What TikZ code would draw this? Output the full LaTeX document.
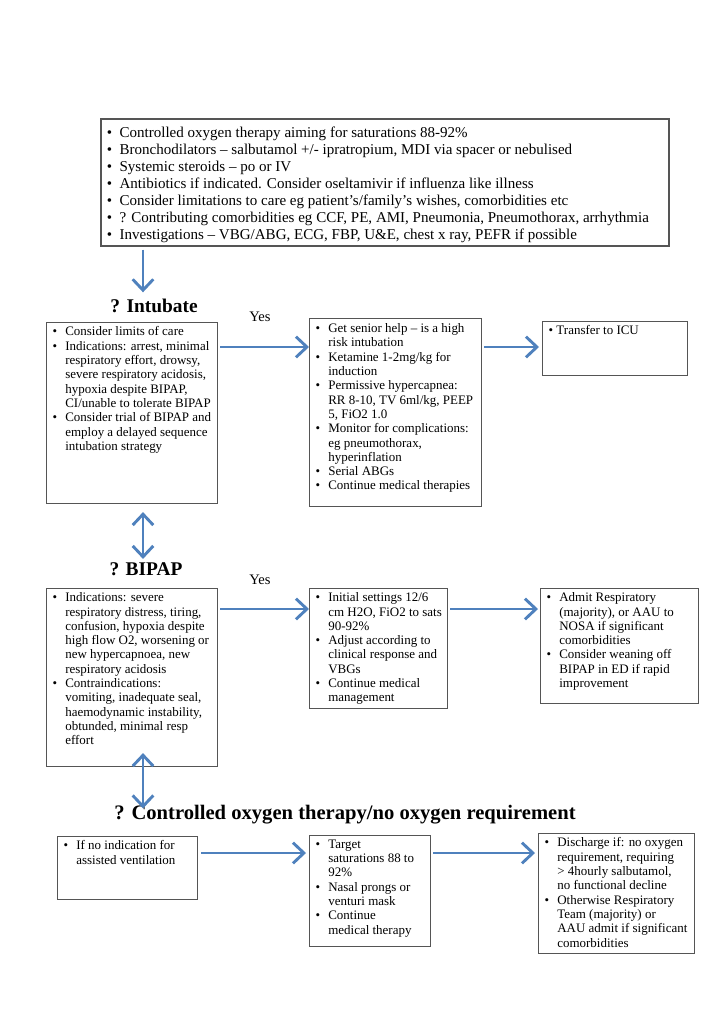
\documentclass[tikz,border=0pt]{standalone}
\usepackage{fontspec}
\setmainfont{Liberation Serif}
\usetikzlibrary{arrows.meta,calc,positioning}
\definecolor{flowblue}{RGB}{79,129,189}
\definecolor{boxgray}{RGB}{85,85,85}
\newlength\px
\setlength\px{0.29mm}
\newlength\itmhang
\setlength\itmhang{10.5pt}
\newcommand\itm{\par\hangindent=\itmhang\hangafter=1\noindent\makebox[\itmhang][l]{\textbullet}}
\newcommand\boxtxt[4][3.5pt]{\parbox[c][#3\px][t]{#2\px}{\leftskip=5pt\rightskip=0pt plus 1fil\vspace*{#1}#4}}

\begin{document}
\begin{tikzpicture}[x=0.29mm,y=-0.29mm,
    care/.style={draw=boxgray,line width=0.9pt,inner sep=0pt,anchor=north west,font=\fontsize{10.7}{11.8}\selectfont},
    head/.style={font=\fontsize{16}{19}\selectfont\bfseries,inner sep=0pt,anchor=base},
    yes/.style={font=\fontsize{12}{14}\selectfont,inner sep=0pt,anchor=base},
    flow/.style={draw=flowblue,line width=2.4pt,-{Straight Barb[length=9pt,width=17pt]}},
    dflow/.style={flow,{Straight Barb[length=9pt,width=17pt]}-{Straight Barb[length=9pt,width=17pt]}}]
\useasboundingbox (0,0) rectangle (724,1024);

\node[care,line width=1.4pt,font=\fontsize{12.4}{14.1}\selectfont] (mgmt) at (100,118) {\boxtxt[6.5pt]{568}{127}{%
  \itm Controlled oxygen therapy aiming for saturations 88-92\%
  \itm Bronchodilators – salbutamol +/- ipratropium, MDI via spacer or nebulised
  \itm Systemic steroids – po or IV
  \itm Antibiotics if indicated. Consider oseltamivir if influenza like illness
  \itm Consider limitations to care eg patient’s/family’s wishes, comorbidities etc
  \itm ? Contributing comorbidities eg CCF, PE, AMI, Pneumonia, Pneumothorax, arrhythmia
  \itm Investigations – VBG/ABG, ECG, FBP, U\&E, chest x ray, PEFR if possible}};

\node[head] (hInt) at (154,312) {? Intubate};
\node[yes] (yInt) at (260,321) {Yes};
\node[care] (intA) at (46,322) {\boxtxt{171}{181}{%
  \itm Consider limits of care
  \itm Indications: arrest, minimal\\respiratory effort, drowsy,\\severe respiratory acidosis,\\hypoxia despite BIPAP,\\CI/unable to tolerate BIPAP
  \itm Consider trial of BIPAP and\\employ a delayed sequence\\intubation strategy}};
\node[care] (intB) at (309,318) {\boxtxt[4.2pt]{172}{188}{%
  \itm Get senior help – is a high\\risk intubation
  \itm Ketamine 1-2mg/kg for\\induction
  \itm Permissive hypercapnea:\\RR 8-10, TV 6ml/kg, PEEP\\5, FiO2 1.0
  \itm Monitor for complications:\\eg pneumothorax,\\hyperinflation
  \itm Serial ABGs
  \itm Continue medical therapies}};
\node[care] (intC) at (542,321) {\boxtxt{145}{54}{\setlength\itmhang{6.5pt}%
  \itm Transfer to ICU}};

\node[head] (hBip) at (146,575) {? BIPAP};
\node[yes] (yBip) at (260,584) {Yes};
\node[care] (bipA) at (46,588) {\boxtxt{171}{178}{%
  \itm Indications: severe\\respiratory distress, tiring,\\confusion, hypoxia despite\\high flow O2, worsening or\\new hypercapnoea, new\\respiratory acidosis
  \itm Contraindications:\\vomiting, inadequate seal,\\haemodynamic instability,\\obtunded, minimal resp\\effort}};
\node[care] (bipB) at (309,588) {\boxtxt{138}{120}{%
  \itm Initial settings 12/6\\cm H2O, FiO2 to sats\\90-92\%
  \itm Adjust according to\\clinical response and\\VBGs
  \itm Continue medical\\management}};
\node[care] (bipC) at (540,588) {\boxtxt{158}{115}{%
  \itm Admit Respiratory\\(majority), or AAU to\\NOSA if significant\\comorbidities
  \itm Consider weaning off\\BIPAP in ED if rapid\\improvement}};

\node[head,font=\fontsize{17}{20}\selectfont\bfseries] (hOxy) at (345,819) {? Controlled oxygen therapy/no oxygen requirement};
\node[care] (oxyA) at (57,836) {\boxtxt{140}{63}{%
  \itm If no indication for\\assisted ventilation}};
\node[care] (oxyB) at (309,835) {\boxtxt{121}{111}{%
  \itm Target\\saturations 88 to\\92\%
  \itm Nasal prongs or\\venturi mask
  \itm Continue\\medical therapy}};
\node[care] (oxyC) at (538,833) {\boxtxt{156}{120}{%
  \itm Discharge if: no oxygen\\requirement, requiring\\> 4hourly salbutamol,\\no functional decline
  \itm Otherwise Respiratory\\Team (majority) or\\AAU admit if significant\\comorbidities}};

\coordinate (colX) at (143,0);
\coordinate (rowA) at ($(intA.north east)+(2,25)$);
\coordinate (rowB) at ($(bipA.north east)+(2,21)$);
\coordinate (rowC) at ($(oxyA.north east)+(3,17)$);
\draw[flow] ($(mgmt.south -| colX)+(0,3)$) -- ($(hInt.north -| colX)+(0,-6)$);
\draw[dflow] ($(intA.south -| colX)+(0,8)$) -- ($(hBip.north -| colX)+(0,-3)$);
\draw[dflow] ($(bipA.south -| colX)+(0,-14)$) -- ($(hOxy.north -| colX)+(0,4)$);
\draw[flow] (rowA) -- (rowA -| intB.west);
\draw[flow] ($(rowA -| intB.east)+(2,0)$) -- ($(rowA -| intC.west)+(-3,0)$);
\draw[flow] (rowB) -- (rowB -| bipB.west);
\draw[flow] ($(rowB -| bipB.east)+(2,0)$) -- ($(rowB -| bipC.west)+(-2,0)$);
\draw[flow] (rowC) -- ($(rowC -| oxyB.west)+(-3,0)$);
\draw[flow] ($(rowC -| oxyB.east)+(2,0)$) -- ($(rowC -| oxyC.west)+(-3,0)$);
\end{tikzpicture}
\end{document}
